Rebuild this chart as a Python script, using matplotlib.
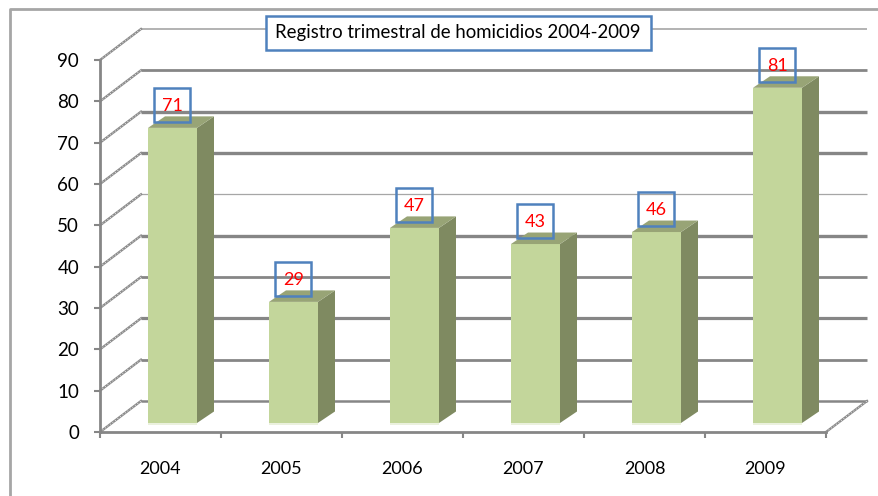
import matplotlib
matplotlib.use("Agg")
import matplotlib.pyplot as plt
from matplotlib.patches import Polygon, Rectangle

years = ["2004", "2005", "2006", "2007", "2008", "2009"]
bar_heights = [71.4, 29.3, 47.2, 43.3, 46.2, 81.1]
bar_labels = ["71", "29", "47", "43", "46", "81"]
y_ticks = [0, 10, 20, 30, 40, 50, 60, 70, 80, 90]
grid_widths = [1.8, 2.0, 2.3, 2.0, 2.4, 0.9, 2.4, 2.4, 2.0, 1.2]
grid_colors = ["#868686"] * 5 + ["#a6a6a6"] + ["#868686"] * 3 + ["#a6a6a6"]
title = "Registro trimestral de homicidios 2004-2009"

W, H = 879, 496
GREY = "#868686"
BLUE = "#4f81bd"
plt.rcParams["font.family"] = ["Lato", "DejaVu Sans"]

fig = plt.figure(figsize=(W / 100, H / 100), dpi=100)
ax = fig.add_axes([100 / W, (H - 432) / H, 726 / W, 372 / H])
ax.set_xlim(0, 6)
ax.set_ylim(0, 90)
ax.patch.set_alpha(0)

# pixel to data scale
sx = 6 / 726
sy = 90 / 372

# wall depth and bar placement inside the floor
wall_dx, wall_dy = 41 * sx, 31 * sy
bar_off_x, bar_off_y = 12 * sx, 9 * sy
depth_x, depth_y = 17 * sx, 11.5 * sy
bar_w = 49 * sx

for v, lw, c in zip(y_ticks, grid_widths, grid_colors):
    ax.plot([wall_dx, 6 + wall_dx], [v + wall_dy] * 2, color=c, lw=lw,
            clip_on=False, zorder=1, solid_capstyle="butt")
    ax.plot([0, wall_dx], [v, v + wall_dy], color="#8c8c8c", lw=1.7,
            clip_on=False, zorder=1)
    ax.plot([0, wall_dx], [v, v + wall_dy], color="white", lw=0.5,
            ls=(0, (1.5, 3)), clip_on=False, zorder=1.1)
ax.plot([6, 6 + wall_dx], [0, wall_dy], color="#8c8c8c", lw=1.7,
        clip_on=False, zorder=1)
ax.plot([6, 6 + wall_dx], [0, wall_dy], color="white", lw=0.5,
        ls=(0, (1.5, 3)), clip_on=False, zorder=1.1)

for i, (h, lab) in enumerate(zip(bar_heights, bar_labels)):
    x0 = i + 0.5 - bar_w / 2 + bar_off_x
    y0 = bar_off_y
    x1 = x0 + bar_w
    y1 = y0 + h
    ax.add_patch(Rectangle((x0, y0), bar_w, h, fc="#c3d69b", ec="none", zorder=3))
    ax.add_patch(Rectangle((x0, y0 - 2 * sy), bar_w, 2 * sy, fc="#ebf1de", ec="none",
                           zorder=3))
    ax.add_patch(Polygon([(x1, y0), (x1 + depth_x, y0 + depth_y),
                          (x1 + depth_x, y1 + depth_y), (x1, y1)],
                         fc="#7f8a61", ec="none", zorder=3))
    ax.add_patch(Polygon([(x0, y1), (x1, y1), (x1 + depth_x, y1 + depth_y),
                          (x0 + depth_x, y1 + depth_y)],
                         fc="#98a476", ec="none", zorder=3))
    # label box sits just over the bar top
    cx = (x0 + x1) / 2
    ax.add_patch(Rectangle((cx - 18 * sx, y1 + 6 * sy), 36 * sx, 34 * sy, fc="none",
                           ec=BLUE, lw=1.8, zorder=4, clip_on=False))
    ax.text(cx, y1 + 22 * sy, lab, color="red", fontsize=13, ha="center",
            va="center", zorder=5)

# title box
ax.add_patch(Rectangle(((266 - 100) * sx, (432 - 50) * sy), 385 * sx, 34 * sy,
                       fc="white", ec=BLUE, lw=1.8, zorder=6, clip_on=False))
ax.text((458 - 100) * sx, (432 - 33) * sy, title, fontsize=13.4, ha="center",
        va="center", zorder=7, color="black")

# outer chart frame, only the left and top edges show
fig.add_artist(plt.Line2D([10 / W, 10 / W, 1], [0, 1 - 9 / H, 1 - 9 / H],
                          color="#a6a6a6", lw=2))

for s in ("top", "right"):
    ax.spines[s].set_visible(False)
for s in ("left", "bottom"):
    ax.spines[s].set_color(GREY)
    ax.spines[s].set_linewidth(2)
    ax.spines[s].set_zorder(2)

ax.set_yticks(y_ticks)
ax.set_xticks(range(7))
ax.set_xticklabels([])
ax.set_xticks([i + 0.5 for i in range(6)], labels=years, minor=True)
ax.tick_params(axis="y", length=4, width=1.5, color=GREY, labelsize=13.5, pad=11)
ax.tick_params(axis="x", which="major", length=4, width=1.5, color=GREY)
ax.tick_params(axis="x", which="minor", length=0, labelsize=13, pad=21)

fig.savefig("out.png", dpi=100)
